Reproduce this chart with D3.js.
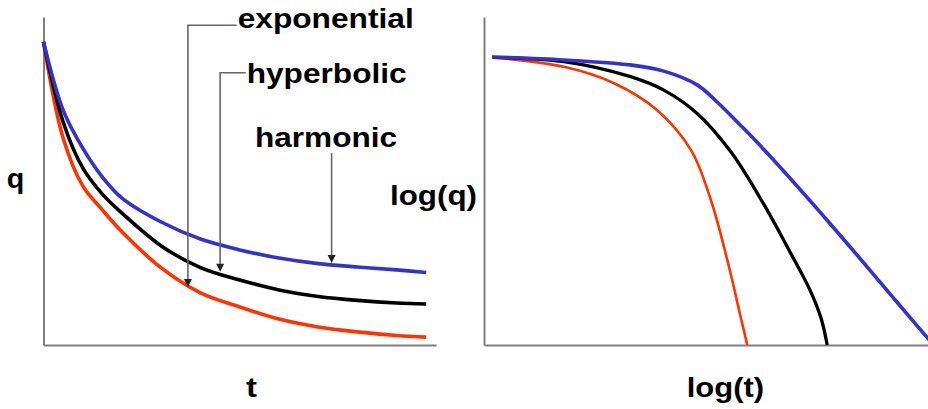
<!DOCTYPE html>
<html>
<head>
<meta charset="utf-8">
<script src="https://cdn.jsdelivr.net/npm/d3@7"></script>
<style>
  html, body { margin: 0; padding: 0; background: #fff; }
  svg { display: block; }
  text { font-family: "Liberation Sans", Arial, sans-serif; font-weight: bold; fill: #000; }
</style>
</head>
<body>
<svg id="chart" width="928" height="409"></svg>
<script>
// ---------- Left panel: rate q versus time t (linear axes) ----------
const tLin = [0, 0.5, 1, 1.5, 2, 3, 4, 5, 6, 7, 8, 9, 9.75];
const qExponential = [9.24, 6.31, 4.85, 4.12, 3.45, 2.35, 1.59, 1.16, 0.79, 0.55, 0.40, 0.29, 0.24];
const qHyperbolic  = [9.24, 6.80, 5.40, 4.60, 4.02, 3.02, 2.36, 1.98, 1.68, 1.48, 1.36, 1.28, 1.25];
const qHarmonic    = [9.24, 7.16, 6.00, 5.12, 4.48, 3.75, 3.23, 2.90, 2.65, 2.48, 2.38, 2.29, 2.21];

// ---------- Right panel: log(q) versus log(t) ----------
const logtExponential = [0.19, 1.80, 2.93, 3.90, 4.66, 5.11, 5.48, 5.78, 5.93];
const logqExponential = [8.77, 8.48, 7.98, 7.16, 5.95, 4.42, 2.59, 0.86, 0.00];
const logtHyperbolic  = [0.19, 1.80, 3.30, 4.05, 4.80, 5.56, 6.31, 6.89, 7.34, 7.59, 7.73];
const logqHyperbolic  = [8.77, 8.64, 8.18, 7.77, 7.06, 5.89, 4.27, 2.84, 1.68, 0.82, 0.00];
const logtHarmonic    = [0.18, 1.80, 3.29, 4.05, 4.80, 5.25, 5.77, 6.31, 7.82, 9.30, 10.2];
const logqHarmonic    = [8.78, 8.69, 8.54, 8.35, 7.93, 7.41, 6.71, 5.95, 3.66, 1.31, -0.12];

// ---------- Labels / annotations ----------
const seriesNames = ["exponential", "hyperbolic", "harmonic"];
const seriesColors = ["#ff3300", "#000000", "#3333cc"];
// arrow target (t, q) on each curve and elbow height (q) for the leader line
const arrowT = [3.68, 4.50, 7.34];
const arrowQ = [1.77, 2.23, 2.50];
const arrowTopQ = [9.75, 8.30, 5.85];
const axisLabels = { leftX: "t", leftY: "q", rightX: "log(t)", rightY: "log(q)" };

const svg = d3.select("#chart");

// scales
const xL = d3.scaleLinear().domain([0, 10]).range([43.5, 436]);
const yL = d3.scaleLinear().domain([0, 10]).range([345, 17]);
const xR = d3.scaleLinear().domain([0, 10]).range([484, 928]);
const yR = d3.scaleLinear().domain([0, 10]).range([345, 17]);

function axes(x, y) {
  const gx = svg.append("g").attr("transform", `translate(0,${y(0)})`)
    .call(d3.axisBottom(x).tickValues([]).tickSizeOuter(0));
  const gy = svg.append("g").attr("transform", `translate(${x(0)},0)`)
    .call(d3.axisLeft(y).tickValues([]).tickSizeOuter(0));
  [gx, gy].forEach(g => g.select(".domain").attr("stroke", "#808080").attr("stroke-width", 2));
}
axes(xL, yL);
axes(xR, yR);

// clip for the right panel
svg.append("clipPath").attr("id", "clipR").append("rect")
  .attr("x", xR(0)).attr("y", 0).attr("width", xR(10) - xR(0)).attr("height", yR(0) + 1);

const lineL = d3.line().x(d => xL(d[0])).y(d => yL(d[1])).curve(d3.curveCatmullRom.alpha(0.5));
const lineR = d3.line().x(d => xR(d[0])).y(d => yR(d[1])).curve(d3.curveCatmullRom.alpha(0.5));

const leftSeries = [qExponential, qHyperbolic, qHarmonic];
leftSeries.forEach((qs, i) => {
  svg.append("path")
    .datum(tLin.map((t, k) => [t, qs[k]]))
    .attr("d", lineL)
    .attr("fill", "none")
    .attr("stroke", seriesColors[i])
    .attr("stroke-width", 3.6)
    .attr("stroke-linejoin", "round");
});

const rightSeries = [
  [logtExponential, logqExponential, 2.6],
  [logtHyperbolic, logqHyperbolic, 3.3],
  [logtHarmonic, logqHarmonic, 3.6]
];
rightSeries.forEach(([xs, ys, w], i) => {
  svg.append("path")
    .attr("clip-path", "url(#clipR)")
    .datum(xs.map((v, k) => [v, ys[k]]))
    .attr("d", lineR)
    .attr("fill", "none")
    .attr("stroke", seriesColors[i])
    .attr("stroke-width", w)
    .attr("stroke-linejoin", "round");
});

// annotation leader lines + arrowheads
const labelX = [237.7, 246.7, 255];
const labelY = [28.3, 83.3, 146.7];
const labelW = [176, 160, 142];
seriesNames.forEach((name, i) => {
  const ax = xL(arrowT[i]);
  const tipY = yL(arrowQ[i]);
  const topY = yL(arrowTopQ[i]);
  let pts;
  if (i < 2) pts = [[labelX[i] - 1, topY], [ax, topY], [ax, tipY - 7]];
  else pts = [[ax, topY], [ax, tipY - 7]];
  svg.append("path")
    .attr("d", d3.line()(pts))
    .attr("fill", "none")
    .attr("stroke", "#666")
    .attr("stroke-width", 1.6);
  svg.append("path")
    .attr("d", d3.line()([[ax - 4, tipY - 8], [ax + 4, tipY - 8], [ax, tipY]]) + "Z")
    .attr("fill", "#222");
  svg.append("text")
    .attr("x", labelX[i]).attr("y", labelY[i])
    .attr("font-size", 28)
    .attr("textLength", labelW[i])
    .attr("lengthAdjust", "spacingAndGlyphs")
    .text(name);
});

// axis titles
function title(txt, x, y, w) {
  svg.append("text").attr("x", x).attr("y", y).attr("font-size", 28)
    .attr("textLength", w).attr("lengthAdjust", "spacingAndGlyphs").text(txt);
}
title(axisLabels.leftY, 6.7, 188, 17.5);
title(axisLabels.leftX, 246, 396.7, 11);
title(axisLabels.rightY, 390, 205, 87);
title(axisLabels.rightX, 686.7, 396.7, 77.5);
</script>
</body>
</html>
